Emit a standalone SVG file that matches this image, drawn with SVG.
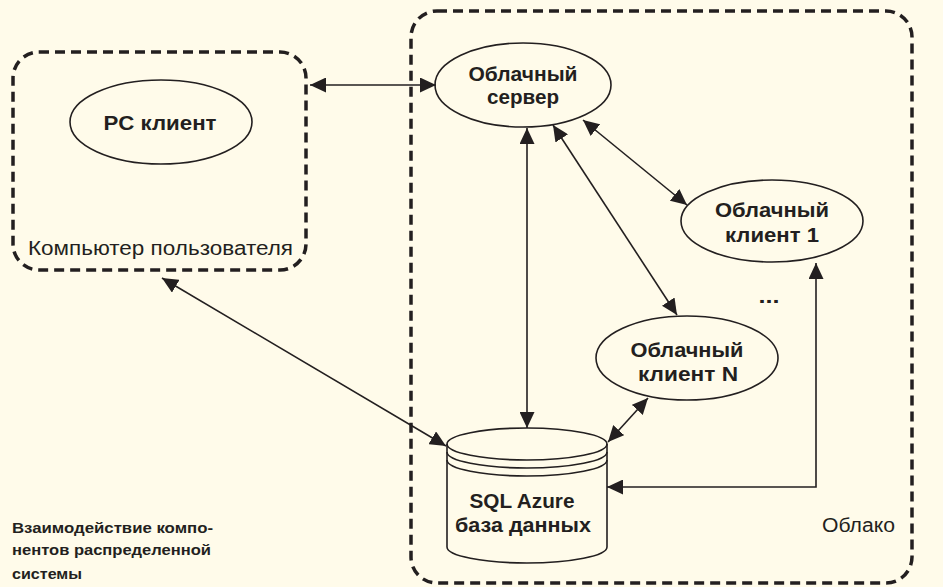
<svg xmlns="http://www.w3.org/2000/svg" width="943" height="587" viewBox="0 0 943 587">
  <style>
    .zone { fill: none; stroke: #231f20; stroke-width: 3.5; stroke-dasharray: 10 6; }
    .node { fill: none; stroke: #231f20; stroke-width: 1.6; }
    .link { fill: none; stroke: #231f20; stroke-width: 1.6; marker-start: url(#head); marker-end: url(#head); }
    .lbl { font-family: "Liberation Sans", Arial, sans-serif; font-weight: bold; font-size: 21px; fill: #231f20; text-anchor: middle; }
    .plain { font-family: "Liberation Sans", Arial, sans-serif; font-size: 20px; fill: #231f20; }
    .caption { font-family: "Liberation Sans", Arial, sans-serif; font-weight: bold; font-size: 15.5px; fill: #231f20; }
  </style>
  <defs>
    <marker id="head" markerUnits="userSpaceOnUse" markerWidth="17" markerHeight="15" refX="16" refY="7.5" orient="auto-start-reverse">
      <path d="M0,0 L16,7.5 L0,15 Z" fill="#231f20"/>
    </marker>
  </defs>

  <rect width="943" height="587" fill="#fffbea"/>

  <!-- user computer zone -->
  <g id="user-computer">
    <rect class="zone" x="13" y="52" width="293" height="218" rx="26"/>
    <text class="plain" x="28" y="255" textLength="265" lengthAdjust="spacingAndGlyphs">Компьютер пользователя</text>
  </g>

  <!-- cloud zone -->
  <g id="cloud">
    <rect class="zone" x="411" y="11" width="501" height="572" rx="26"/>
    <text class="plain" x="822" y="532" textLength="73" lengthAdjust="spacingAndGlyphs">Облако</text>
  </g>

  <g id="pc-client">
    <ellipse class="node" cx="161" cy="122" rx="91" ry="42"/>
    <text class="lbl" x="160" y="130" textLength="113" lengthAdjust="spacingAndGlyphs">PC клиент</text>
  </g>

  <g id="cloud-server">
    <ellipse class="node" cx="523" cy="85" rx="88" ry="42"/>
    <text class="lbl" x="523" y="81" textLength="109" lengthAdjust="spacingAndGlyphs">Облачный</text>
    <text class="lbl" x="523" y="104" textLength="72" lengthAdjust="spacingAndGlyphs">сервер</text>
  </g>

  <g id="cloud-client-1">
    <ellipse class="node" cx="772" cy="221" rx="91" ry="41"/>
    <text class="lbl" x="772" y="217" textLength="114" lengthAdjust="spacingAndGlyphs">Облачный</text>
    <text class="lbl" x="772" y="242" textLength="94" lengthAdjust="spacingAndGlyphs">клиент 1</text>
  </g>

  <g id="cloud-client-n">
    <ellipse class="node" cx="687" cy="358" rx="91" ry="42"/>
    <text class="lbl" x="687" y="357" textLength="113" lengthAdjust="spacingAndGlyphs">Облачный</text>
    <text class="lbl" x="688" y="381" textLength="100" lengthAdjust="spacingAndGlyphs">клиент N</text>
  </g>

  <g id="ellipsis">
    <text class="lbl" x="769" y="303" font-size="26px" textLength="21" lengthAdjust="spacingAndGlyphs">...</text>
  </g>

  <g id="sql-azure">
    <path class="node" d="M447,444 A80,16 0 0 1 607,444 A80,16 0 0 1 447,444 Z"/>
    <path class="node" d="M447,452 A80,16 0 0 0 607,452"/>
    <path class="node" d="M447,460 A80,16 0 0 0 607,460"/>
    <path class="node" d="M447,444 L447,547 A80,16 0 0 0 607,547 L607,444"/>
    <text class="lbl" x="522" y="508" textLength="105" lengthAdjust="spacingAndGlyphs">SQL Azure</text>
    <text class="lbl" x="523" y="532" textLength="136" lengthAdjust="spacingAndGlyphs">база данных</text>
  </g>

  <!-- connectors -->
  <g id="connectors">
    <line class="link" x1="310" y1="85" x2="436" y2="85"/>
    <line class="link" x1="162" y1="278" x2="446" y2="446"/>
    <line class="link" x1="527" y1="128" x2="527" y2="428"/>
    <line class="link" x1="553" y1="125" x2="677" y2="315"/>
    <line class="link" x1="583" y1="120" x2="687" y2="205"/>
    <line class="link" x1="648" y1="398" x2="608" y2="442"/>
    <polyline class="link" points="607,487 816,487 816,263"/>
  </g>

  <g id="caption">
    <text class="caption" x="12" y="533" textLength="201" lengthAdjust="spacingAndGlyphs">Взаимодействие компо-</text>
    <text class="caption" x="12" y="555" textLength="199" lengthAdjust="spacingAndGlyphs">нентов распределенной</text>
    <text class="caption" x="12" y="579" textLength="70" lengthAdjust="spacingAndGlyphs">системы</text>
  </g>
</svg>
